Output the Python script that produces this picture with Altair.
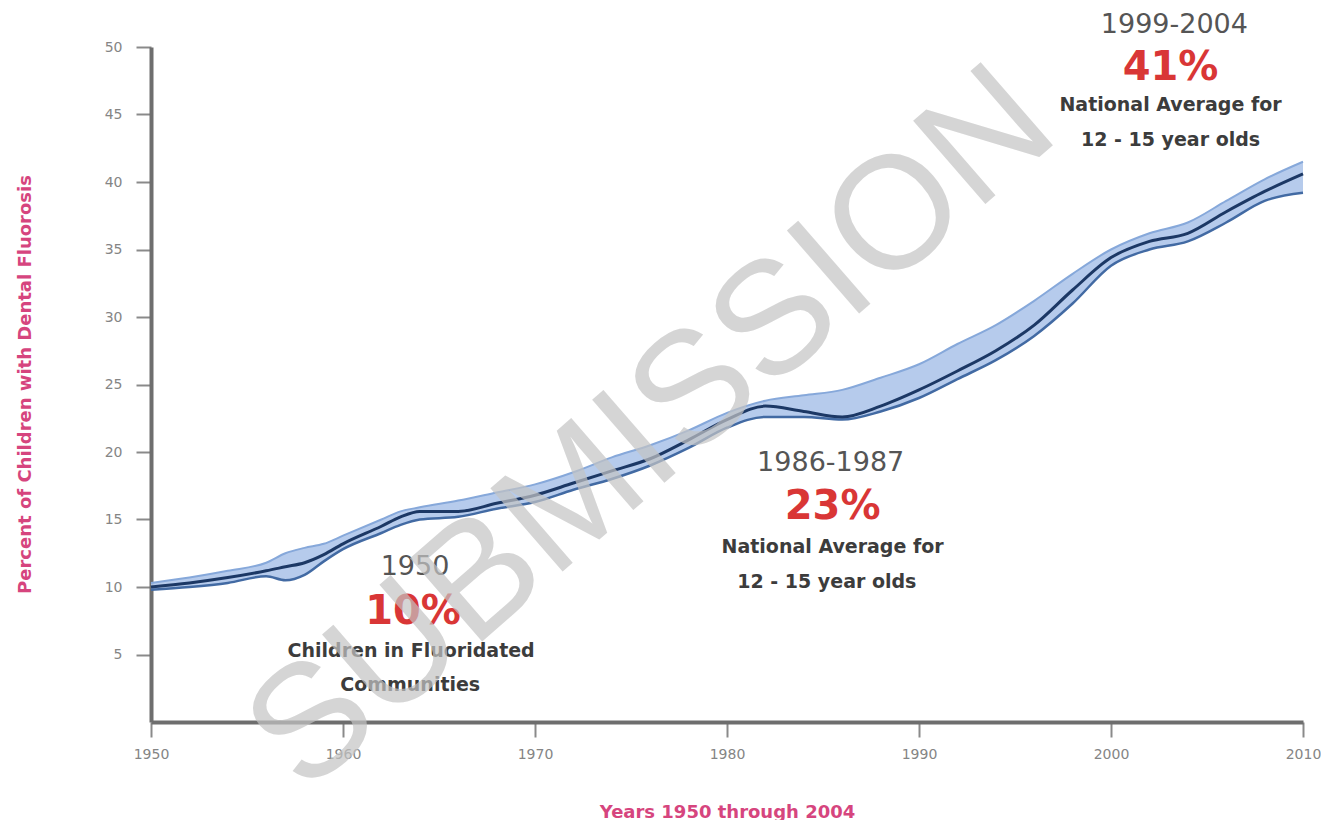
import altair as alt
import pandas as pd

# ---- data ----
years = [1950, 1952, 1954, 1956, 1957, 1958, 1959, 1960, 1962, 1963, 1964, 1966, 1968,
         1970, 1972, 1974, 1976, 1978, 1980, 1982, 1984, 1986, 1988, 1990, 1992, 1994,
         1996, 1998, 2000, 2002, 2004, 2006, 2008, 2010]
main_strand = [10.0, 10.3, 10.7, 11.2, 11.5, 11.8, 12.4, 13.2, 14.5, 15.2, 15.6, 15.6, 16.2,
               16.8, 17.7, 18.6, 19.5, 20.9, 22.4, 23.4, 23.0, 22.6, 23.4, 24.6, 26.0, 27.5,
               29.4, 32.0, 34.4, 35.6, 36.2, 37.8, 39.3, 40.6]
upper_strand = [10.3, 10.7, 11.2, 11.8, 12.5, 12.9, 13.2, 13.8, 15.0, 15.6, 15.9, 16.4, 17.0,
                17.6, 18.5, 19.6, 20.5, 21.6, 22.9, 23.8, 24.2, 24.6, 25.5, 26.5, 28.0, 29.4,
                31.2, 33.2, 35.0, 36.2, 37.0, 38.6, 40.2, 41.5]
lower_strand = [9.8, 10.0, 10.3, 10.8, 10.5, 10.9, 11.9, 12.8, 14.0, 14.6, 15.0, 15.2, 15.8,
                16.3, 17.2, 18.0, 19.0, 20.3, 21.8, 22.6, 22.6, 22.4, 23.0, 24.0, 25.4, 26.8,
                28.6, 31.0, 33.8, 35.0, 35.6, 37.0, 38.6, 39.2]

x_ticks = [1950, 1960, 1970, 1980, 1990, 2000, 2010]
y_ticks = [5, 10, 15, 20, 25, 30, 35, 40, 45, 50]

period_labels = ["1950", "1986-1987", "1999-2004"]
period_year = [1963.75, 1985.4, 2003.3]
period_value = [11.5, 19.2, 51.6]

pct_labels = ["10%", "23%", "41%"]
pct_year = [1963.65, 1985.5, 2003.1]
pct_value = [8.15, 15.9, 48.45]

desc_labels = ["Children in Fluoridated", "Communities",
               "National Average for", "12 - 15 year olds",
               "National Average for", "12 - 15 year olds"]
desc_year = [1963.55, 1963.5, 1985.5, 1985.2, 2003.1, 2003.1]
desc_value = [5.25, 2.75, 12.95, 10.35, 45.7, 43.1]

watermark = ["SUBMISSION"]

# ---- tables ----
df = pd.DataFrame({"year": years, "main": main_strand,
                   "upper": upper_strand, "lower": lower_strand})
periods = pd.DataFrame({"year": period_year, "value": period_value, "text": period_labels})
pcts = pd.DataFrame({"year": pct_year, "value": pct_value, "text": pct_labels})
descs = pd.DataFrame({"year": desc_year, "value": desc_value, "text": desc_labels})
wm = pd.DataFrame({"t": watermark})

pink = "#d6457e"

xs = alt.Scale(domain=[1950, 2010], nice=False, zero=False)
ys = alt.Scale(domain=[0, 50], nice=False)

x_axis = alt.Axis(values=x_ticks, format="d", grid=False, labelPadding=10, labelFlush=False,
                  title="Years 1950 through 2004",
                  titleX=576, titleY=90, titleBaseline="middle", titleAlign="center")
y_axis = alt.Axis(values=y_ticks, grid=False, labelPadding=14, labelFlush=False,
                  title="Percent of Children with Dental Fluorosis",
                  titleAngle=270, titleX=-126, titleY=337,
                  titleBaseline="middle", titleAlign="center")

base = alt.Chart(df)

band = base.mark_area(interpolate="monotone", color="#aec5ea", opacity=0.9).encode(
    x=alt.X("year:Q", scale=xs, axis=x_axis),
    y=alt.Y("lower:Q", scale=ys, axis=y_axis),
    y2="upper:Q",
)
upper_line = base.mark_line(interpolate="monotone", color="#86a8da", strokeWidth=2).encode(
    x=alt.X("year:Q", scale=xs), y=alt.Y("upper:Q", scale=ys))
lower_line = base.mark_line(interpolate="monotone", color="#426aa3", strokeWidth=2.5).encode(
    x=alt.X("year:Q", scale=xs), y=alt.Y("lower:Q", scale=ys))
main_line = base.mark_line(interpolate="monotone", color="#1c3865", strokeWidth=3).encode(
    x=alt.X("year:Q", scale=xs), y=alt.Y("main:Q", scale=ys))

period_text = alt.Chart(periods).mark_text(
    font="DejaVu Sans", fontSize=27, color="#555555", align="center", baseline="middle"
).encode(x=alt.X("year:Q", scale=xs), y=alt.Y("value:Q", scale=ys), text="text:N")

pct_text = alt.Chart(pcts).mark_text(
    font="DejaVu Sans", fontSize=40, fontWeight="bold", color="#d93636",
    align="center", baseline="middle"
).encode(x=alt.X("year:Q", scale=xs), y=alt.Y("value:Q", scale=ys), text="text:N")

desc_text = alt.Chart(descs).mark_text(
    font="DejaVu Sans", fontSize=19, fontWeight="bold", color="#3c3c3c",
    align="center", baseline="middle"
).encode(x=alt.X("year:Q", scale=xs), y=alt.Y("value:Q", scale=ys), text="text:N")

wm_text = alt.Chart(wm).mark_text(
    font="Liberation Sans", fontSize=160, color="#c4c4c4", opacity=0.7,
    angle=319, align="center", baseline="middle"
).encode(x=alt.value(501), y=alt.value(383), text="t:N")

chart = alt.layer(
    band, upper_line, lower_line, main_line, period_text, pct_text, desc_text, wm_text
).properties(
    width=1152, height=675,
    autosize=alt.AutoSizeParams(type="none"),
    padding={"left": 143, "top": 39, "right": 18, "bottom": 98},
    background="white",
).configure_view(
    stroke=None
).configure_axis(
    labelFont="DejaVu Sans", labelFontSize=14, labelColor="#858585",
    tickSize=15, tickWidth=2, tickColor="#8a8a8a",
    domainColor="#6e6e6e", domainWidth=4,
    titleFont="DejaVu Sans", titleFontSize=18, titleFontWeight="bold", titleColor=pink,
)

chart.save("out.html", embed_options={"renderer": "svg", "actions": False})
